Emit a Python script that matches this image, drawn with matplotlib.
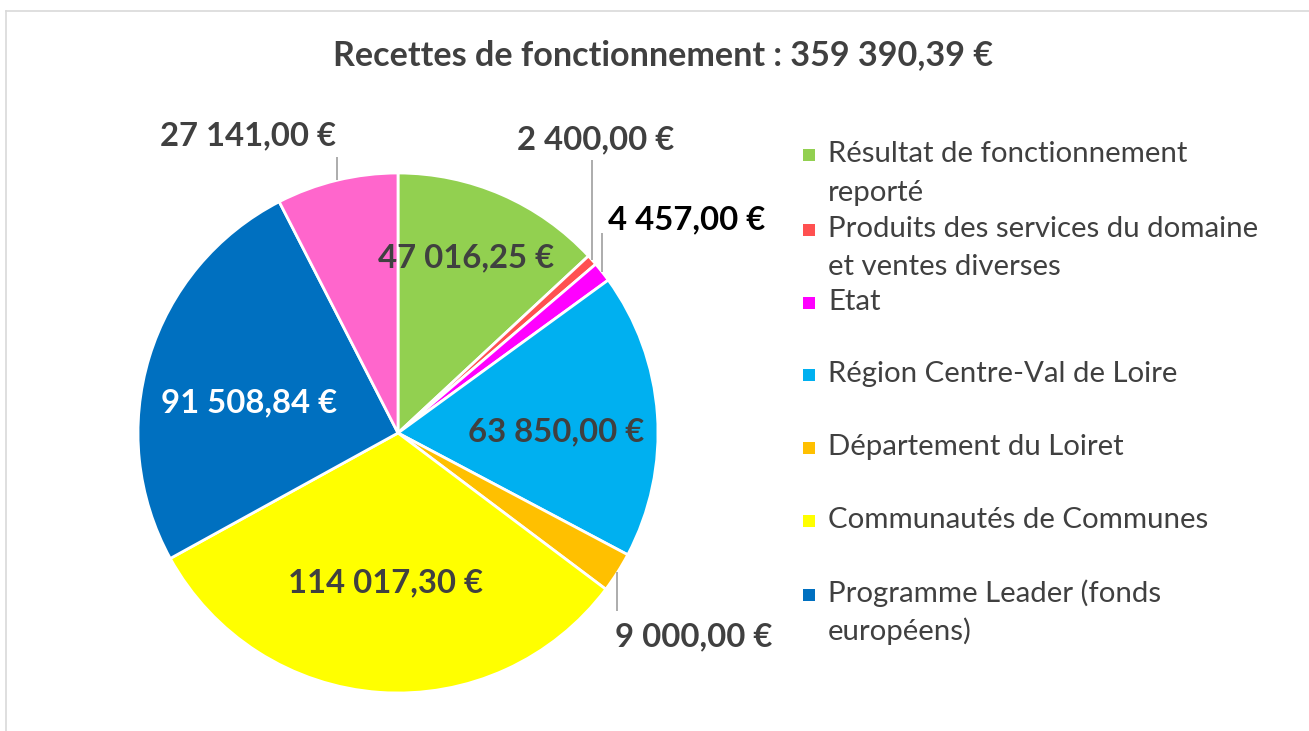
import matplotlib
matplotlib.use('Agg')
import matplotlib.pyplot as plt
import numpy as np

plt.rcParams['font.family'] = ['Lato', 'DejaVu Sans']

# data
categories = ['Résultat de fonctionnement\nreporté',
              'Produits des services du domaine\net ventes diverses',
              'Etat',
              'Région Centre-Val de Loire',
              'Département du Loiret',
              'Communautés de Communes',
              'Programme Leader (fonds\neuropéens)',
              '']
values = [47016.25, 2400.00, 4457.00, 63850.00, 9000.00, 114017.30, 91508.84, 27141.00]
colors = ['#92D050', '#FF5050', '#FF00FF', '#00B0F0', '#FFC000', '#FFFF00', '#0070C0', '#FF66CC']

W, H = 1309, 731
CX, CY, R = 398, 433, 260   # pie centre / radius in pixels


def px(x, y):
    # pixel position -> data coords of the pie axes
    return (x - CX) / R, (CY - y) / R


def fmt(v):
    return f'{v:,.2f}'.replace(',', ' ').replace('.', ',') + ' €'


fig = plt.figure(figsize=(W / 100, H / 100), dpi=100)
ax = fig.add_axes([0, 0, 1, 1])
ax.pie(values, colors=colors, startangle=90, counterclock=False, radius=1,
       wedgeprops=dict(edgecolor='white', linewidth=2.0))
ax.set_xlim(px(0, 0)[0], px(W, 0)[0])
ax.set_ylim(px(0, H)[1], px(0, 0)[1])
ax.set_aspect('equal')
ax.axis('off')

# mid angles of slices (clockwise from top)
total = sum(values)
cum = np.cumsum([0] + values)
mids = [(cum[i] + cum[i + 1]) / 2 / total * 360 for i in range(len(values))]

dark = '#404040'
# (centre x, centre y) of label in pixels, colour, leader line end y (None = inside)
label_spec = [
    ((466, 258), dark, None),
    ((596, 140), dark, 160),
    ((687, 220), 'black', 233),
    ((556, 432), dark, None),
    ((694, 637), dark, 611),
    ((386, 583), dark, None),
    ((249, 403), 'white', None),
    ((248, 136), dark, 157),
]
for v, m, (pos, col, ly) in zip(values, mids, label_spec):
    x, y = px(*pos)
    ax.text(x, y, fmt(v), ha='center', va='center', fontsize=23.7,
            fontweight='bold', color=col)
    if ly is not None:
        ex, ey = np.sin(np.radians(m)), np.cos(np.radians(m))
        ax.plot([ex, ex], [ey, px(0, ly)[1]], color='#A6A6A6', lw=1.3,
                solid_capstyle='butt')

# title
tx, ty = px(663, 55)
ax.text(tx, ty, 'Recettes de fonctionnement : ' + fmt(total), ha='center', va='center',
        fontsize=24.6, fontweight='bold', color=dark)

# legend drawn by hand to keep Excel's spacing
base_y = [162, 236.7, 310, 381.7, 455, 528, 601.7]
for name, col, by in zip(categories[:7], colors[:7], base_y):
    sx, sy = px(803, by - 1)
    ax.add_patch(plt.Rectangle((sx, sy), 12 / R, 12 / R, color=col, lw=0))
    lines = name.split('\n')
    for k, ln in enumerate(lines):
        x, y = px(828, by + k * 38.5)
        ax.text(x, y, ln, ha='left', va='baseline', fontsize=21.2, color=dark)

# chart area border (continues past the right and bottom edges)
border = '#D9D9D9'
fig.add_artist(plt.Line2D([5.5 / W, 5.5 / W], [0, 1 - 10.5 / H], color=border, lw=1.2,
                          transform=fig.transFigure))
fig.add_artist(plt.Line2D([5.5 / W, 1], [1 - 10.5 / H, 1 - 10.5 / H], color=border, lw=1.2,
                          transform=fig.transFigure))

fig.savefig('out.png', dpi=100)
